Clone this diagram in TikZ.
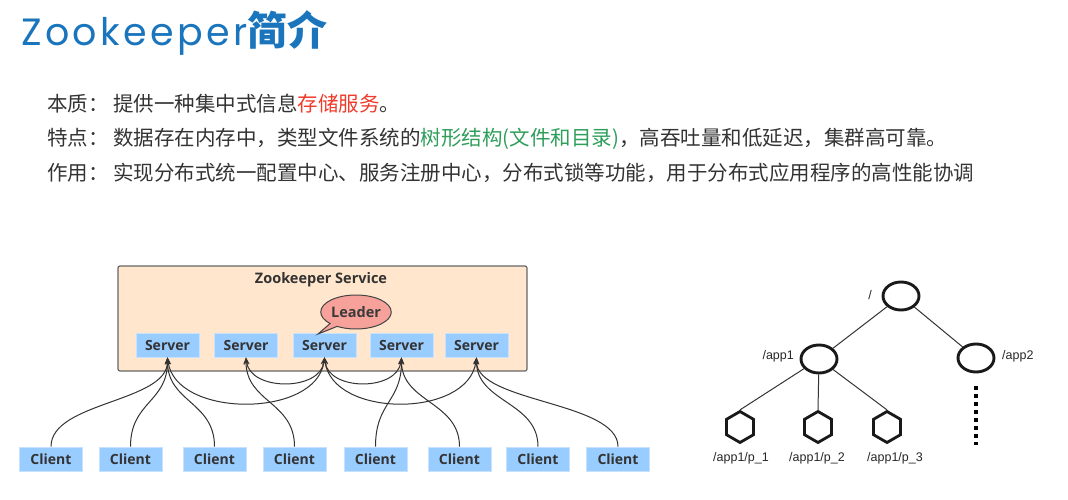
\documentclass[tikz,border=0pt]{standalone}
\usepackage{fontspec}
\usetikzlibrary{arrows.meta,shapes.geometric,shapes.callouts}
\newfontfamily\cjk{Noto Sans CJK SC}
\newfontfamily\popfont[LetterSpace=9]{Poppins}
\newfontfamily\osans{Open Sans}
\newfontfamily\libsans{Liberation Sans}
\definecolor{titleblue}{HTML}{1A75BC}
\definecolor{txt}{HTML}{333333}
\definecolor{hlred}{HTML}{EE3B2B}
\definecolor{hlgreen}{HTML}{2E9E5B}
\definecolor{svcfill}{HTML}{FFE6CC}
\definecolor{svcedge}{HTML}{666666}
\definecolor{boxblue}{HTML}{99CCFF}
\definecolor{boxedge}{HTML}{C6E2FF}
\definecolor{leaderfill}{HTML}{F6A29A}
\definecolor{leaderedge}{HTML}{444444}
\definecolor{leadertext}{HTML}{3A3A3A}
\definecolor{linec}{HTML}{333333}
\tikzset{
  body/.style={anchor=base west, text=txt, font=\cjk\fontsize{20.5}{24}\selectfont, inner sep=0},
  bluebox/.style={fill=boxblue, draw=boxedge, line width=0.8pt, minimum width=63pt, minimum height=24pt, inner sep=0, text=txt, font=\osans\bfseries\fontsize{14}{16}\selectfont},
  cl/.style={draw=linec, line width=1pt, -{Stealth[length=7pt,width=5.5pt]}},
  ss/.style={draw=linec, line width=1pt, {Stealth[length=7pt,width=5.5pt]}-{Stealth[length=7pt,width=5.5pt]}},
  tnode/.style={ellipse, draw=black!90, line width=2.9pt, fill=white, minimum width=36pt, minimum height=28pt, inner sep=0},
  hexnode/.style={regular polygon, regular polygon sides=6, shape border rotate=30, draw=black!90, line width=2.8pt, fill=white, minimum size=31pt, inner sep=0},
  tlabel/.style={text=black!85, font=\libsans\fontsize{12.5}{14}\selectfont, inner sep=0},
  tedge/.style={draw=black!80, line width=1pt}
}
\begin{document}
\begin{tikzpicture}[x=1pt,y=-1pt]
\useasboundingbox (0,0) rectangle (1068,500);
% title
\node[anchor=base west, inner sep=0, text=titleblue] (title) at (21,46)
  {{\popfont\fontsize{38}{40}\selectfont Zookeeper}{\cjk\bfseries\fontsize{40}{42}\selectfont 简介}};
% body text
\node[body] (l1a) at (47,112) {本质：};
\node[body] (l1b) at (113,112) {提供一种集中式信息\textcolor{hlred}{存储服务}。};
\node[body] (l2a) at (47,146) {特点：};
\node[body] (l2b) at (113,146) {数据存在内存中，类型文件系统的\textcolor{hlgreen}{树形结构(文件和目录)}，高吞吐量和低延迟，集群高可靠。};
\node[body] (l3a) at (47,180) {作用：};
\node[body] (l3b) at (113,180) {实现分布式统一配置中心、服务注册中心，分布式锁等功能，用于分布式应用程序的高性能协调};
% zookeeper service box
\node[draw=svcedge, fill=svcfill, line width=1.2pt, rounded corners=2pt, minimum width=409pt, minimum height=105pt, inner sep=0] (svc) at (322.5,318.5) {};
\node[text=txt, font=\osans\bfseries\fontsize{14.5}{16}\selectfont, inner sep=0] (svctitle) at (321,280) {Zookeeper Service};
% servers
\node[bluebox] (s1) at (167.5,345) {Server};
\node[bluebox] (s2) at (246,345) {Server};
\node[bluebox] (s3) at (324.5,345) {Server};
\node[bluebox] (s4) at (401.5,345) {Server};
\node[bluebox] (s5) at (476.5,345) {Server};
% leader
\node[ellipse callout, callout absolute pointer={(318,334)}, fill=leaderfill, draw=leaderedge, line width=1pt, minimum width=70pt, minimum height=34pt, inner sep=0, text=leadertext, font=\osans\bfseries\fontsize{14.5}{16}\selectfont] (leader) at (356,312) {Leader};
% clients
\node[bluebox] (c1) at (51,459) {Client};
\node[bluebox] (c2) at (130.5,459) {Client};
\node[bluebox] (c3) at (214.5,459) {Client};
\node[bluebox] (c4) at (294.5,459) {Client};
\node[bluebox] (c5) at (375.5,459) {Client};
\node[bluebox] (c6) at (459.5,459) {Client};
\node[bluebox] (c7) at (538,459) {Client};
\node[bluebox] (c8) at (618,459) {Client};
% client connectors
\draw[cl] (c1.north) .. controls +(0,-45) and +(0,45) .. (s1.south);
\draw[cl] (c2.north) .. controls +(0,-45) and +(0,45) .. (s1.south);
\draw[cl] (c3.north) .. controls +(0,-45) and +(0,45) .. (s1.south);
\draw[cl] (c4.north) .. controls +(0,-45) and +(0,45) .. (s2.south);
\draw[cl] (c5.north) .. controls +(0,-45) and +(0,45) .. (s4.south);
\draw[cl] (c6.north) .. controls +(0,-45) and +(0,45) .. (s4.south);
\draw[cl] (c7.north) .. controls +(0,-45) and +(0,45) .. (s5.south);
\draw[cl] (c8.north) .. controls +(0,-45) and +(0,45) .. (s5.south);
% server-server connectors
\draw[ss] (s1.south) .. controls +(8,61) and +(-8,61) .. (s3.south);
\draw[ss] (s2.south) .. controls +(4,34) and +(-4,34) .. (s3.south);
\draw[ss] (s3.south) .. controls +(4,34) and +(-4,34) .. (s4.south);
\draw[ss] (s3.south) .. controls +(8,61) and +(-8,61) .. (s5.south);
% tree
\node[tnode] (root) at (901,296) {};
\node[tnode] (app1) at (819,359) {};
\node[tnode] (app2) at (976,358) {};
\node[hexnode] (p1) at (740,427) {};
\node[hexnode] (p2) at (818,427) {};
\node[hexnode] (p3) at (887,427) {};
\draw[tedge] (root) -- (app1);
\draw[tedge] (root) -- (app2);
\draw[tedge] (app1) -- (p1.north);
\draw[tedge] (app1) -- (p2.north);
\draw[tedge] (app1) -- (p3.north);
\coordinate (dotend) at (976,445);
\draw[line width=3.2pt, dash pattern=on 3.5pt off 4.5pt] ([yshift=-13pt]app2.south) -- (dotend);
\node[tlabel] (lroot) at (870,295) {/};
\node[tlabel, anchor=east] (lapp1) at (794,356) {/app1};
\node[tlabel, anchor=west] (lapp2) at (1002,356) {/app2};
\node[tlabel] (lp1) at (741,458) {/app1/p\_1};
\node[tlabel] (lp2) at (817,458) {/app1/p\_2};
\node[tlabel] (lp3) at (895,458) {/app1/p\_3};
\end{tikzpicture}
\end{document}
